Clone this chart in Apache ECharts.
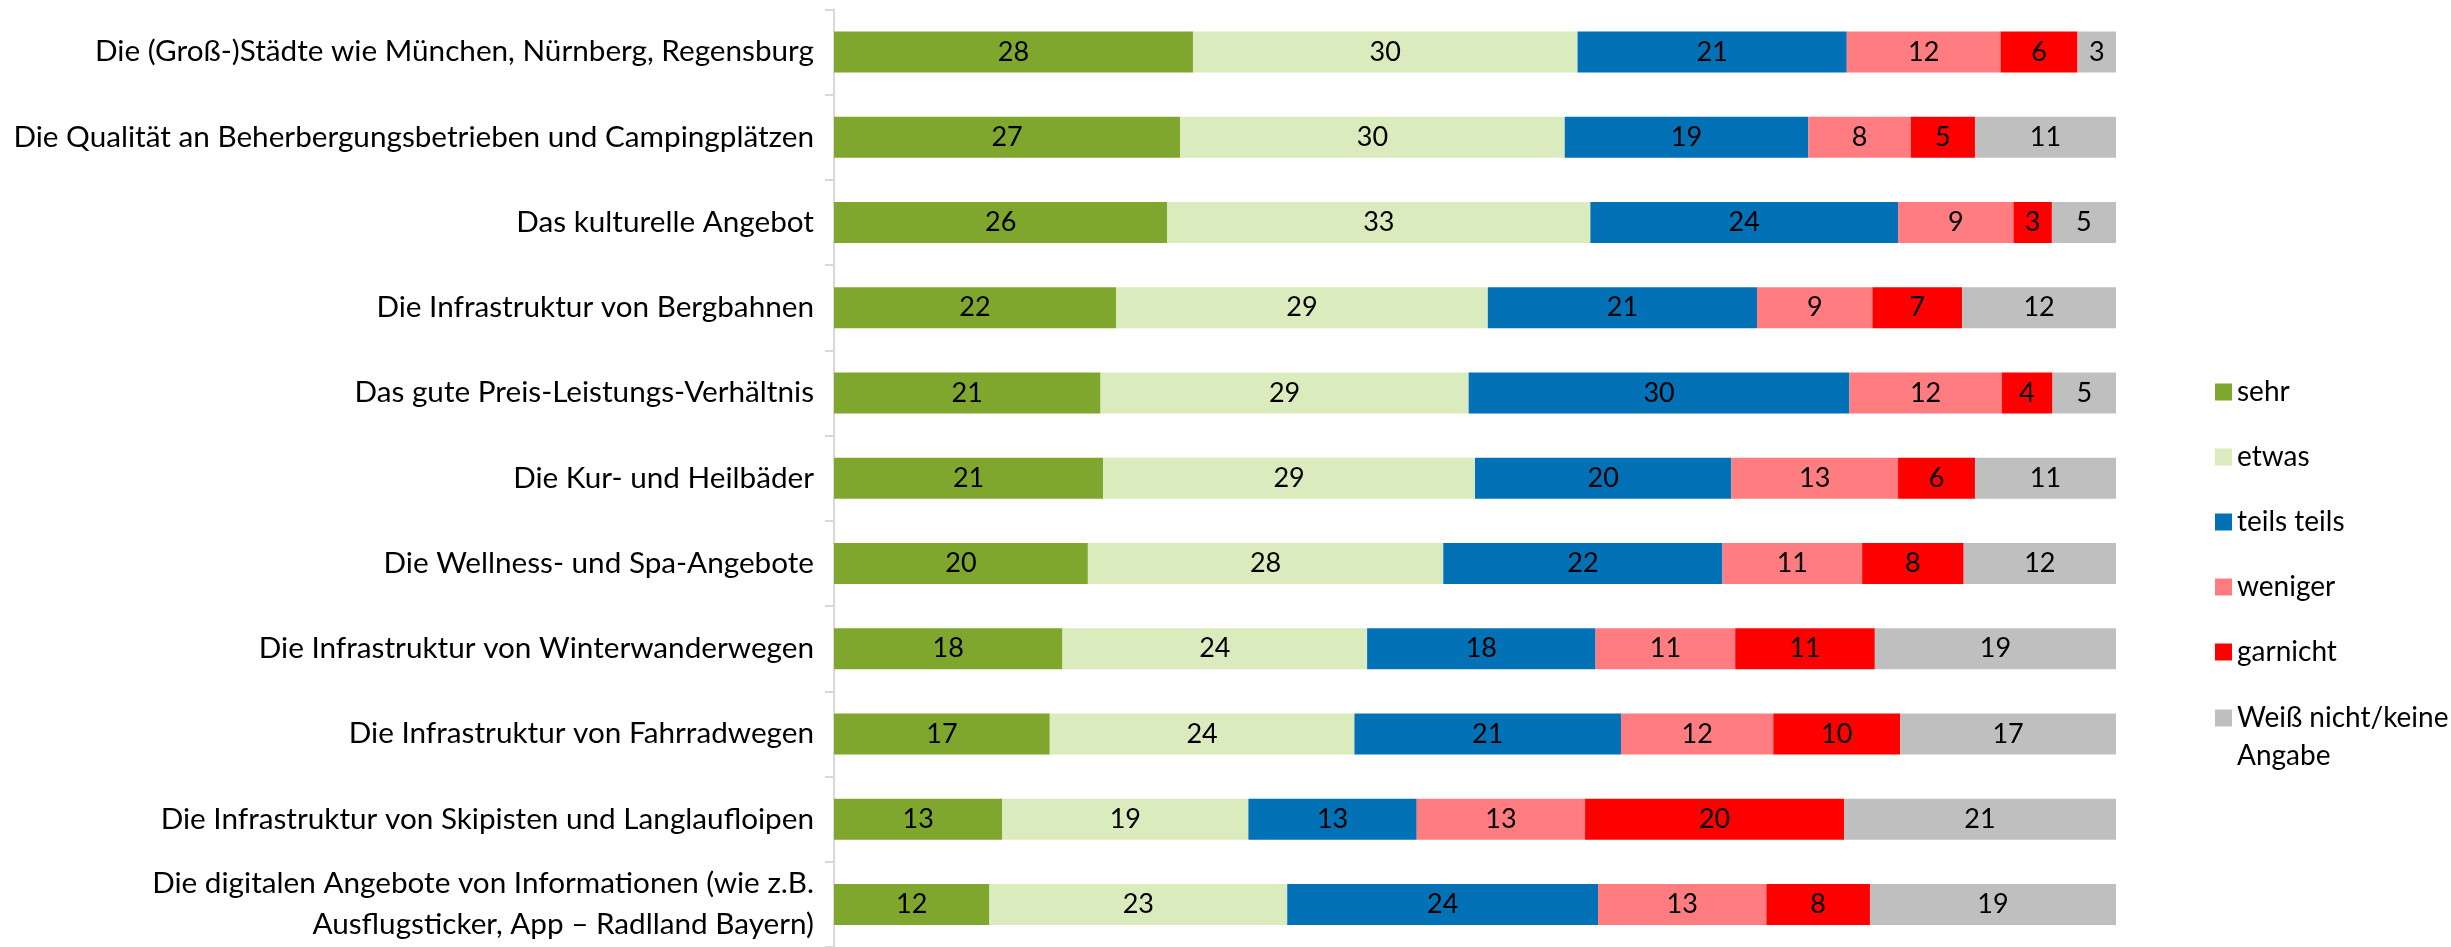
<!DOCTYPE html>
<html><head><meta charset="utf-8">
<script src="https://cdn.jsdelivr.net/npm/echarts@6/dist/echarts.min.js"></script>
<style>html,body{margin:0;padding:0;background:#fff}#c{width:2451px;height:947px}</style>
</head><body><div id="c"></div>
<script>
const categories = [
  'Die (Groß-)Städte wie München, Nürnberg, Regensburg',
  'Die Qualität an Beherbergungsbetrieben und Campingplätzen',
  'Das kulturelle Angebot',
  'Die Infrastruktur von Bergbahnen',
  'Das gute Preis-Leistungs-Verhältnis',
  'Die Kur- und Heilbäder',
  'Die Wellness- und Spa-Angebote',
  'Die Infrastruktur von Winterwanderwegen',
  'Die Infrastruktur von Fahrradwegen',
  'Die Infrastruktur von Skipisten und Langlaufloipen',
  'Die digitalen Angebote von Informationen (wie z.B.\nAusflugsticker, App – Radlland Bayern)'
];
const seriesNames = ['sehr', 'etwas', 'teils teils', 'weniger', 'garnicht', 'Weiß nicht/keine\nAngabe'];
const sehr       = [28, 27, 26, 22, 21, 21, 20, 18, 17, 13, 12];
const etwas      = [30, 30, 33, 29, 29, 29, 28, 24, 24, 19, 23];
const teilsTeils = [21, 19, 24, 21, 30, 20, 22, 18, 21, 13, 24];
const weniger    = [12,  8,  9,  9, 12, 13, 11, 11, 12, 13, 13];
const garnicht   = [ 6,  5,  3,  7,  4,  6,  8, 11, 10, 20,  8];
const weissNicht = [ 3, 11,  5, 12,  5, 11, 12, 19, 17, 21, 19];
const seriesValues = [sehr, etwas, teilsTeils, weniger, garnicht, weissNicht];
const colors = ['#7FA72E', '#DAEBBD', '#0271B6', '#FF7C80', '#FF0000', '#BFBFBF'];

const FONT = 'Lato';
const rowSums = categories.map((_, i) => seriesValues.reduce((s, arr) => s + arr[i], 0));

const series = seriesNames.map((name, k) => ({
  name: name,
  type: 'bar',
  stack: 'total',
  barWidth: 41,
  itemStyle: { color: colors[k] },
  label: {
    show: true,
    position: 'inside',
    color: '#000',
    fontFamily: FONT,
    fontSize: 27,
    formatter: p => String(p.data.raw)
  },
  emphasis: { disabled: true },
  data: seriesValues[k].map((v, i) => ({ value: v / rowSums[i] * 100, raw: v }))
}));

const chart = echarts.init(document.getElementById('c'));
chart.setOption({
  animation: false,
  backgroundColor: '#fff',
  grid: { left: 834, width: 1282, top: 9.3, height: 943, containLabel: false },
  xAxis: { type: 'value', min: 0, max: 100, show: false },
  yAxis: {
    type: 'category',
    inverse: true,
    data: categories,
    axisLine: { show: true, lineStyle: { color: '#D9D9D9', width: 2 } },
    axisTick: { show: true, length: 9, lineStyle: { color: '#D9D9D9', width: 2 } },
    axisLabel: { color: '#000', fontFamily: FONT, fontSize: 29.7, margin: 20, lineHeight: 41, align: 'right' },
    splitLine: { show: false }
  },
  legend: [
    {
      orient: 'vertical', left: 2215, top: 373, padding: 0,
      itemWidth: 17, itemHeight: 17, itemGap: 27, icon: 'rect',
      selectedMode: false,
      textStyle: { color: '#000', fontFamily: FONT, fontSize: 28, lineHeight: 38 },
      data: seriesNames.slice(0, 5)
    },
    {
      orient: 'vertical', left: 2215, top: 661, padding: 0,
      itemWidth: 17, itemHeight: 17, icon: 'rect',
      selectedMode: false,
      formatter: name => '\n' + name,
      textStyle: { color: '#000', fontFamily: FONT, fontSize: 28, lineHeight: 38 },
      data: [seriesNames[5]]
    }
  ],
  series: series
});
</script>
</body></html>
